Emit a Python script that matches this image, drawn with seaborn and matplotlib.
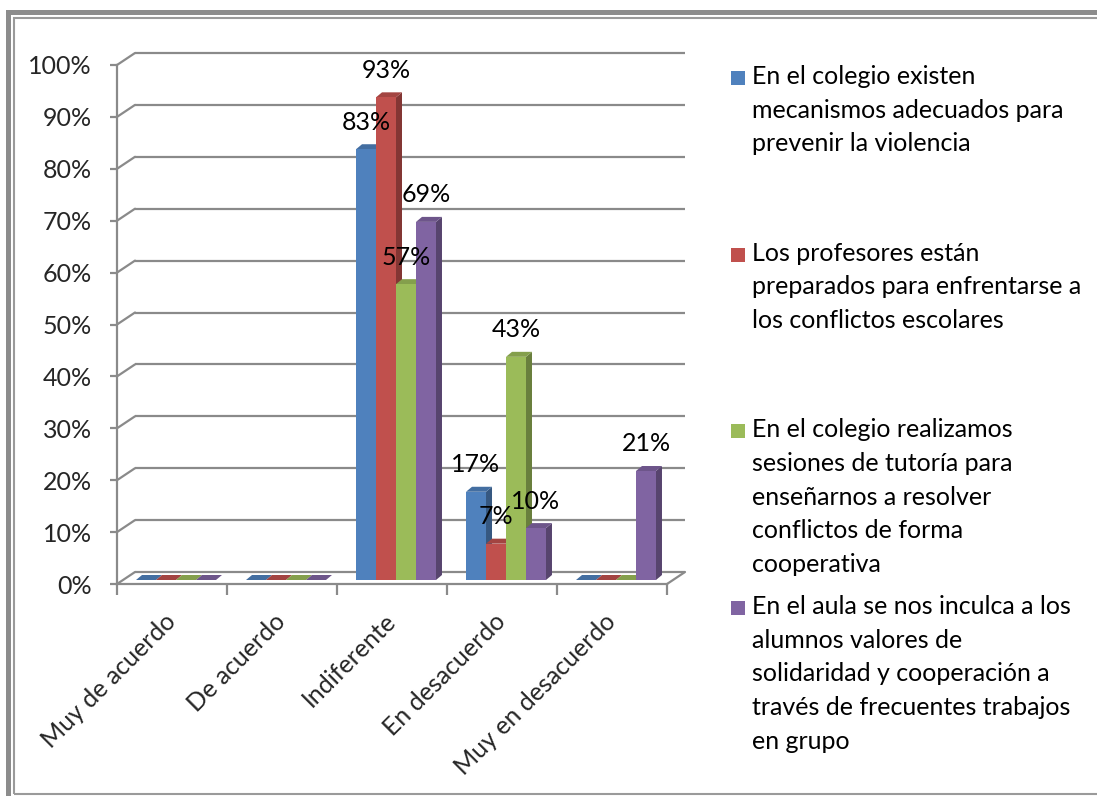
import numpy as np
import pandas as pd
import matplotlib
matplotlib.use("Agg")
import matplotlib.pyplot as plt
from matplotlib.patches import Polygon, Rectangle
from matplotlib.transforms import ScaledTranslation
import seaborn as sns

# ---- data -------------------------------------------------------------
categories = ["Muy de acuerdo", "De acuerdo", "Indiferente", "En desacuerdo",
              "Muy en desacuerdo"]
series = [
    "En el colegio existen\nmecanismos adecuados para\nprevenir la violencia",
    "Los profesores están\npreparados para enfrentarse a\nlos conflictos escolares",
    "En el colegio realizamos\nsesiones de tutoría para\nenseñarnos a resolver\nconflictos de forma\ncooperativa",
    "En el aula se nos inculca a los\nalumnos valores de\nsolidaridad y cooperación a\ntravés de frecuentes trabajos\nen grupo",
]
mecanismos = [0.00, 0.00, 0.83, 0.17, 0.00]
profesores = [0.00, 0.00, 0.93, 0.07, 0.00]
tutoria = [0.00, 0.00, 0.57, 0.43, 0.00]
valores = [0.00, 0.00, 0.69, 0.10, 0.21]
colors = ["#4F81BD", "#C0504D", "#9BBB59", "#8064A2"]
yticks = np.arange(0, 1.01, 0.1)

values = [mecanismos, profesores, tutoria, valores]
df = pd.DataFrame({
    "categoria": np.tile(categories, len(series)),
    "serie": np.repeat(series, len(categories)),
    "valor": np.concatenate(values),
})

# ---- figure / style ---------------------------------------------------
sns.set_theme(style="white")
plt.rcParams["font.family"] = ["Lato", "DejaVu Sans"]
FS = 18
GRID = "#8a8a8a"

W, H = 1097, 796
fig = plt.figure(figsize=(W / 100, H / 100), dpi=100)
fig.patch.set_facecolor("white")

# front plane of the 3-D box (pixels measured from top-left)
left_px, right_px, top_px, bottom_px = 117, 667, 65, 584
ax = fig.add_axes([left_px / W, 1 - bottom_px / H,
                   (right_px - left_px) / W, (bottom_px - top_px) / H])
ax.set_facecolor("none")

bar_w = 0.727
sns.barplot(data=df, x="categoria", y="valor", hue="serie", order=categories,
            hue_order=series, palette=colors, width=bar_w, gap=0,
            saturation=1, legend=False, ax=ax, edgecolor="none", linewidth=0)
ax.set_xlim(-0.5, len(categories) - 0.5)
ax.set_ylim(0, 1)

# pixel -> data conversion factors
ppx = (right_px - left_px) / len(categories)
ppy = bottom_px - top_px

# depth of the box (front -> back wall) and of the bars
box_dx, box_dy = 18 / ppx, 12 / ppy
bar_dx, bar_dy = 6 / ppx, 5 / ppy
shift = ScaledTranslation(4 / 100, 4 / 100, fig.dpi_scale_trans)
bar_tf = ax.transData + shift


def shade(c, f):
    r, g, b = matplotlib.colors.to_rgb(c)
    return (r * f, g * f, b * f)


# back wall gridlines and left wall diagonals
x0, x1 = -0.5, len(categories) - 0.5
for v in yticks:
    ax.plot([x0 + box_dx, x1 + box_dx], [v + box_dy, v + box_dy], color=GRID,
            lw=1.6, clip_on=False, zorder=0.5, solid_capstyle="butt")
    ax.plot([x0, x0 + box_dx], [v, v + box_dy], color=GRID, lw=1.6,
            clip_on=False, zorder=0.5)
# floor outline (right edge)
ax.plot([x1, x1 + box_dx], [0, box_dy], color=GRID, lw=1.6, clip_on=False,
        zorder=0.5)

# bars with top and side faces
for k, cont in enumerate(ax.containers):
    col = colors[k]
    for p in cont.patches:
        bx, bw, bh = p.get_x(), p.get_width(), p.get_height()
        z = 2 + bx * 0.1
        p.set_transform(bar_tf)
        p.set_zorder(z + 0.02)
        p.set_facecolor(col)
        top = Polygon([(bx, bh), (bx + bw, bh), (bx + bw + bar_dx, bh + bar_dy),
                       (bx + bar_dx, bh + bar_dy)], closed=True,
                      facecolor=shade(col, 0.85), edgecolor="none",
                      transform=bar_tf, zorder=z + 0.01, clip_on=False)
        side = Polygon([(bx + bw, 0), (bx + bw + bar_dx, bar_dy),
                        (bx + bw + bar_dx, bh + bar_dy), (bx + bw, bh)],
                       closed=True, facecolor=shade(col, 0.68),
                       edgecolor="none", transform=bar_tf, zorder=z,
                       clip_on=False)
        ax.add_patch(side)
        ax.add_patch(top)
        p.set_clip_on(False)
        if bh > 0:
            ax.annotate(f"{bh * 100:.0f}%", xy=(bx + bw / 2, bh),
                        xycoords=bar_tf, xytext=(0, 19.5),
                        textcoords="offset points", ha="center", va="center",
                        fontsize=FS, color="black", zorder=10)

# axes: left axis and floor front edge
for s in ["top", "right"]:
    ax.spines[s].set_visible(False)
for s in ["left", "bottom"]:
    ax.spines[s].set_color(GRID)
    ax.spines[s].set_linewidth(1.6)
    ax.spines[s].set_zorder(1)

ax.set_yticks(yticks)
ax.set_yticklabels([f"{v * 100:.0f}%" for v in yticks], fontsize=FS)
ax.tick_params(axis="y", which="major", left=True, length=5, width=1.6,
               color=GRID, pad=13)

ax.set_xticks(np.arange(len(categories) + 1) - 0.5)
ax.set_xticklabels([])
ax.set_xticks(np.arange(len(categories)), minor=True)
ax.set_xticklabels(categories, minor=True, fontsize=FS, rotation=45,
                   ha="right", va="center", rotation_mode="anchor")
ax.tick_params(axis="x", which="major", bottom=True, length=8, width=1.6,
               color=GRID)
ax.tick_params(axis="x", which="minor", bottom=False, length=0, pad=24)
ax.set_xlabel("")
ax.set_ylabel("")
ax.grid(False)

# legend, one slot per series
leg_x, leg_y0, leg_step = 752, 78, 176.7
for k, (lab, col) in enumerate(zip(series, colors)):
    y = leg_y0 + k * leg_step
    fig.patches.append(Rectangle((731 / W, 1 - (y + 7) / H), 14 / W, 14 / H,
                                 transform=fig.transFigure, facecolor=col,
                                 edgecolor="none"))
    fig.text(leg_x / W, 1 - (y - 13) / H, lab, fontsize=FS, va="top",
             ha="left", linespacing=1.56, color="black")

# chart frame
fig.patches.append(Rectangle((7.5 / W, -0.05), 1.2, 1 - 12.5 / H + 0.05,
                             transform=fig.transFigure, fill=False,
                             edgecolor="#8c8c8c", linewidth=3.6))
fig.patches.append(Rectangle((13.5 / W, 1 - 794 / H), 1.2, (794 - 18) / H,
                             transform=fig.transFigure, fill=False,
                             edgecolor="#9a9a9a", linewidth=1.5))

fig.savefig("out.png", dpi=100, facecolor="white")
